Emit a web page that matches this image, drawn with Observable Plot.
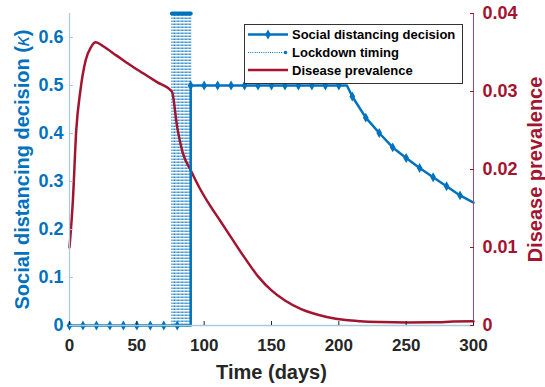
<!DOCTYPE html>
<html><head><meta charset="utf-8">
<script src="https://cdn.jsdelivr.net/npm/d3@7"></script>
<script src="https://cdn.jsdelivr.net/npm/@observablehq/plot@0.6"></script>
<style>
body{margin:0;background:#fff;}
#wrap{position:relative;width:545px;height:387px;font-family:"Liberation Sans",Arial,sans-serif;}
#legend{position:absolute;left:244px;top:24px;}
</style></head><body><div id="wrap"></div>
<script>
// Social distancing decision (left axis)
const sdDays   = [0,10,20,30,40,50,60,70,80,90,90,100,110,120,130,140,150,160,170,180,190,200,206,210,220,230,240,250,260,270,280,290,300];
const sdValues = [0,0,0,0,0,0,0,0,0,0,0.5,0.5,0.5,0.5,0.5,0.5,0.5,0.5,0.5,0.5,0.5,0.5,0.5,0.477,0.433,0.401,0.371,0.349,0.328,0.309,0.290,0.271,0.256];
// Lockdown timing stems
const lockdownDays = [76,77,78,79,80,81,82,83,84,85,86,87,88,89,90];
const lockdownLevel = 0.65;
// Disease prevalence (right axis)
const prevDays   = [0,2.5,5,8,12,16,19.5,25,35,45,55,65,76,80,84,90,97,105,112,120,130,140,150,160,172,180,191,205,216,231,250,270,285,300];
const prevValues = [0.0100,0.0160,0.0250,0.0300,0.0340,0.0357,0.0363,0.0358,0.0346,0.0334,0.0323,0.0312,0.0300,0.0254,0.0222,0.0199,0.0175,0.0152,0.0134,0.0113,0.0087,0.0063,0.0045,0.0032,0.0021,0.0016,0.0011,0.0007,0.00055,0.00045,0.0004,0.00042,0.0005,0.00055];
// Axes
const xTicks = [0,50,100,150,200,250,300];
const leftTicks = [0,0.1,0.2,0.3,0.4,0.5,0.6];
const rightTicks = [0,0.01,0.02,0.03,0.04];
const xDomain = [0,300];
const leftDomain = [0,0.65];
const rightDomain = [0,0.04];

const BLUE = "#0072BD", RED = "#A2142F", AXBLUE = "#a9c9db", DARK = "#262626";
const k = leftDomain[1] / rightDomain[1];

const sd = sdDays.map((d,i)=>({day:d, value:sdValues[i]}));
const sdMarkers = sd.filter((p)=>p.day % 10 === 0 && p.day < 300 && !(p.day === 90 && p.value === 0));
const prev = prevDays.map((d,i)=>({day:d, value:prevValues[i]*k}));
const fmt = d => String(+d.toFixed(4));

const chart = Plot.plot({
  width: 545, height: 387,
  marginLeft: 69, marginRight: 72, marginTop: 13, marginBottom: 62,
  x: {domain: xDomain},
  y: {domain: leftDomain},
  style: {fontFamily: '"Liberation Sans", Arial, sans-serif', background: "white"},
  marks: [
    Plot.ruleX(lockdownDays, {x: d=>d, y1: 0, y2: lockdownLevel, stroke: BLUE, strokeWidth: 1, strokeDasharray: "1.5,1.5", strokeOpacity: 0.85}),
    Plot.dot(lockdownDays, {x: d=>d, y: lockdownLevel, r: 2, fill: BLUE, stroke: "none"}),
    Plot.line(prev, {x: "day", y: "value", stroke: RED, strokeWidth: 2.5, curve: "monotone-x"}),
    Plot.line(sd, {x: "day", y: "value", stroke: BLUE, strokeWidth: 2.5}),
    Plot.dot(sdMarkers, {x: "day", y: "value", symbol: "diamond", r: 3, fill: BLUE, stroke: "none"}),
    Plot.ruleX([xDomain[0]], {stroke: AXBLUE, strokeWidth: 1.2}),
    Plot.ruleX([xDomain[1]], {stroke: "#b5485f", strokeWidth: 1}),
    Plot.ruleY([0], {stroke: AXBLUE, strokeWidth: 1.5}),
    // left axis
    Plot.axisY({anchor: "left", ticks: leftTicks, tickSize: -4, stroke: AXBLUE, fill: "none", label: null}),
    Plot.axisY({anchor: "left", ticks: leftTicks, tickSize: 0, tickPadding: 6, stroke: "none", fill: BLUE, fontSize: 18, fontWeight: "bold", tickFormat: fmt, label: null}),
    // right axis
    Plot.axisY({anchor: "right", ticks: rightTicks.map(v=>v*k), tickSize: -4, stroke: RED, fill: "none", label: null}),
    Plot.axisY({anchor: "right", ticks: rightTicks.map(v=>v*k), tickSize: 0, tickPadding: 9, stroke: "none", fill: RED, fontSize: 18, fontWeight: "bold", tickFormat: d=>fmt(d/k), label: null}),
    // x axis
    Plot.axisX({ticks: xTicks, tickSize: -4, stroke: DARK, fill: "none", label: null}),
    Plot.axisX({ticks: xTicks, tickSize: 0, tickPadding: 13, stroke: "none", fill: DARK, fontSize: 17, fontWeight: "bold", tickFormat: d=>String(d), label: null}),
    // titles
    Plot.text(["Social distancing decision (κ)"], {text: d=>d, frameAnchor: "left", dx: -47, rotate: -90, fontSize: 20, fontWeight: "bold", fill: BLUE, textAnchor: "middle", lineAnchor: "middle"}),
    Plot.text(["Disease prevalence"], {text: d=>d, frameAnchor: "right", dx: 62, rotate: -90, fontSize: 20, fontWeight: "bold", fill: RED, textAnchor: "middle", lineAnchor: "middle"}),
    Plot.text(["Time (days)"], {text: d=>d, frameAnchor: "bottom", dy: 47, fontSize: 20, fontWeight: "bold", fill: DARK, textAnchor: "middle", lineAnchor: "middle"})
  ]
});

// italic kappa
d3.select(chart).selectAll("text").each(function(){
  if (this.textContent === "Social distancing decision (κ)") {
    const t = d3.select(this);
    t.text(null);
    t.append("tspan").text("Social distancing decision (");
    t.append("tspan").attr("font-style","italic").attr("font-weight","normal").text("κ");
    t.append("tspan").text(")");
  }
});

const wrap = document.getElementById("wrap");
wrap.appendChild(chart);

// legend
const legendItems = ["Social distancing decision", "Lockdown timing", "Disease prevalence"];
const lg = d3.select(wrap).append("svg").attr("id","legend").attr("width",219).attr("height",60)
  .style("font-family",'"Liberation Sans", Arial, sans-serif');
lg.append("rect").attr("x",0.5).attr("y",0.5).attr("width",218).attr("height",59).attr("fill","white").attr("stroke","#333").attr("stroke-width",1);
const rowsY = [10.5, 28.5, 46];
lg.append("line").attr("x1",4).attr("x2",44).attr("y1",rowsY[0]).attr("y2",rowsY[0]).attr("stroke",BLUE).attr("stroke-width",2.5);
lg.append("path").attr("d", d3.symbol(d3.symbolDiamond, 3*3*Math.PI)()).attr("transform",`translate(24,${rowsY[0]})`).attr("fill",BLUE);
lg.append("line").attr("x1",4).attr("x2",39).attr("y1",rowsY[1]).attr("y2",rowsY[1]).attr("stroke",BLUE).attr("stroke-width",1).attr("stroke-dasharray","1,1.2");
lg.append("circle").attr("cx",41.5).attr("cy",rowsY[1]).attr("r",1.8).attr("fill",BLUE);
lg.append("line").attr("x1",4).attr("x2",44).attr("y1",rowsY[2]).attr("y2",rowsY[2]).attr("stroke",RED).attr("stroke-width",2.5);
legendItems.forEach((s,i)=>{
  lg.append("text").attr("x",48).attr("y",rowsY[i]).attr("dy","0.36em").attr("font-size",13).attr("font-weight","bold").attr("fill","#000").text(s);
});
</script>
</body></html>
